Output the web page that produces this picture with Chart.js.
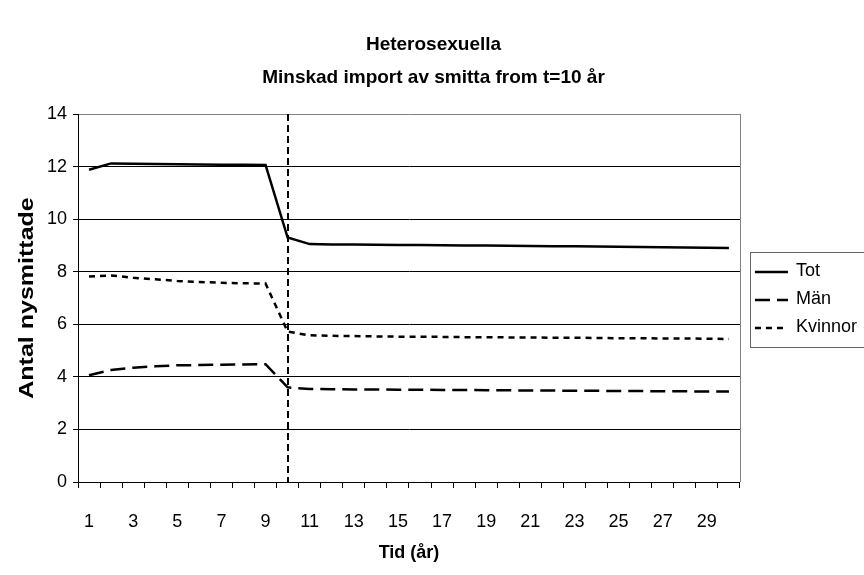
<!DOCTYPE html>
<html lang="sv">
  <head>
    <meta charset="UTF-8" />
    <title>Heterosexuella</title>
    <script src="https://cdn.jsdelivr.net/npm/chart.js"></script>
    <style>
      body { margin: 0; background: #fff; }
      #wrap { width: 864px; height: 575px; }
    </style>
  </head>
  <body>
    <div id="wrap"><canvas id="chart"></canvas></div>
    <script>
      // Tid (år)
      const years = ["1", "2", "3", "4", "5", "6", "7", "8", "9", "10",
        "11", "12", "13", "14", "15", "16", "17", "18", "19", "20",
        "21", "22", "23", "24", "25", "26", "27", "28", "29", "30"];

      const tot = [11.88, 12.12, 12.11, 12.10, 12.09, 12.08, 12.07, 12.07, 12.06, 9.30,
        9.05, 9.04, 9.04, 9.03, 9.02, 9.02, 9.01, 9.00, 9.00, 8.99,
        8.98, 8.97, 8.97, 8.96, 8.95, 8.94, 8.93, 8.92, 8.91, 8.90];

      const man = [4.06, 4.26, 4.35, 4.40, 4.44, 4.45, 4.46, 4.47, 4.48, 3.60,
        3.54, 3.53, 3.52, 3.52, 3.51, 3.51, 3.50, 3.50, 3.49, 3.49,
        3.48, 3.48, 3.47, 3.47, 3.46, 3.46, 3.45, 3.45, 3.44, 3.44];

      const kvinnor = [7.82, 7.86, 7.77, 7.71, 7.65, 7.61, 7.58, 7.56, 7.55, 5.72,
        5.58, 5.56, 5.55, 5.54, 5.53, 5.53, 5.52, 5.51, 5.51, 5.50,
        5.50, 5.49, 5.49, 5.48, 5.47, 5.47, 5.46, 5.46, 5.45, 5.44];

      const yTicks = [0, 2, 4, 6, 8, 10, 12, 14];
      const changeYear = "10"; // minskad import från t=10
      const yTitle = "Antal nysmittade";

      Chart.defaults.font.family = "'Liberation Sans', Arial, sans-serif";
      Chart.defaults.font.size = 18;
      Chart.defaults.color = "#000";

      // dashed marker at t=10, plot frame, y title, legend samples and frame
      const extras = {
        id: "extras",
        afterDatasetsDraw(chart) {
          const { ctx, chartArea: a, scales } = chart;
          const x = scales.x.getPixelForValue(years.indexOf(changeYear));
          ctx.save();
          ctx.strokeStyle = "#000";
          ctx.lineWidth = 2;
          ctx.setLineDash([7, 4]);
          ctx.beginPath();
          ctx.moveTo(Math.round(x), a.top);
          ctx.lineTo(Math.round(x), a.bottom);
          ctx.stroke();
          ctx.setLineDash([]);
          ctx.lineWidth = 1;
          ctx.strokeStyle = "#808080";
          ctx.beginPath();
          ctx.moveTo(Math.round(a.right) + 0.5, a.top);
          ctx.lineTo(Math.round(a.right) + 0.5, a.bottom);
          ctx.stroke();
          ctx.restore();

          // y axis title, stretched along its length like the original
          ctx.save();
          ctx.translate(27, (a.top + a.bottom) / 2);
          ctx.rotate(-Math.PI / 2);
          ctx.scale(1.25, 1);
          ctx.font = "bold 20px 'Liberation Sans', Arial, sans-serif";
          ctx.fillStyle = "#000";
          ctx.textAlign = "center";
          ctx.textBaseline = "middle";
          ctx.fillText(yTitle, 0, 0);
          ctx.restore();
        },
        afterDraw(chart) {
          const boxes = chart.legend.legendHitBoxes;
          if (!boxes || !boxes.length) return;
          const { ctx } = chart;
          const half = 9;
          ctx.save();
          boxes.forEach((b, i) => {
            const ds = chart.data.datasets[i];
            const y = Math.round(b.top + half);
            ctx.strokeStyle = ds.borderColor;
            ctx.lineWidth = ds.borderWidth;
            ctx.setLineDash(ds.borderDash || []);
            ctx.beginPath();
            ctx.moveTo(b.left + 5, y);
            ctx.lineTo(b.left + 38, y);
            ctx.stroke();
          });
          ctx.setLineDash([]);
          const first = boxes[0];
          const last = boxes[boxes.length - 1];
          const top = first.top + half - 20;
          const bottom = last.top + half + 19;
          ctx.strokeStyle = "#666";
          ctx.lineWidth = 1;
          ctx.strokeRect(Math.round(first.left) + 0.5, Math.round(top) + 0.5, 200, Math.round(bottom - top));
          ctx.restore();
        },
      };

      new Chart(document.getElementById("chart"), {
        type: "line",
        data: {
          labels: years,
          datasets: [
            {
              label: "Tot",
              data: tot,
              borderColor: "#000",
              borderWidth: 2.5,
              pointRadius: 0,
              tension: 0,
            },
            {
              label: "Män",
              data: man,
              borderColor: "#000",
              borderWidth: 2.5,
              borderDash: [15, 7],
              pointRadius: 0,
              tension: 0,
            },
            {
              label: "Kvinnor",
              data: kvinnor,
              borderColor: "#000",
              borderWidth: 2.5,
              borderDash: [6, 5],
              pointRadius: 0,
              tension: 0,
            },
          ],
        },
        options: {
          responsive: true,
          maintainAspectRatio: false,
          animation: false,
          layout: { padding: { left: 0, top: 0, bottom: 0, right: -3 } },
          scales: {
            x: {
              offset: true,
              grid: {
                offset: true,
                drawOnChartArea: false,
                drawTicks: true,
                tickLength: 6,
                color: "#000",
              },
              border: { color: "#000", width: 1 },
              ticks: {
                autoSkip: false,
                maxRotation: 0,
                padding: 23,
                callback: (v, i) => (i % 2 === 0 ? years[i] : ""),
              },
              title: {
                display: true,
                text: "Tid (år)",
                font: { weight: "bold", size: 18 },
                padding: { top: 0, bottom: 11 },
              },
              afterFit: (s) => { s.height = 93; },
            },
            y: {
              min: 0,
              max: 14,
              afterBuildTicks: (s) => { s.ticks = yTicks.map((v) => ({ value: v })); },
              grid: {
                color: (c) => (c.tick && c.tick.value === 14 ? "#808080" : "#000"),
                tickColor: "#000",
                tickLength: 5,
              },
              border: { color: "#000", width: 1 },
              ticks: { padding: 6 },
              title: { display: false },
              afterFit: (s) => { s.width = 78; },
            },
          },
          plugins: {
            title: {
              display: true,
              text: ["Heterosexuella", "Minskad import av smitta from t=10 år"],
              font: { weight: "bold", size: 19, lineHeight: 1.75 },
              padding: { top: 28, bottom: 19.5 },
            },
            legend: {
              position: "right",
              title: {
                display: true,
                text: " ",
                font: { size: 4, lineHeight: 1 },
                padding: { top: 10, bottom: 10 },
              },
              labels: {
                usePointStyle: true,
                pointStyle: "line",
                pointStyleWidth: 37,
                padding: 10,
                color: "#000",
                generateLabels: (chart) =>
                  Chart.defaults.plugins.legend.labels.generateLabels(chart).map((item) => ({
                    ...item,
                    strokeStyle: "rgba(0,0,0,0)",
                    fillStyle: "rgba(0,0,0,0)",
                  })),
              },
            },
            tooltip: { enabled: false },
          },
        },
        plugins: [extras],
      });
    </script>
  </body>
</html>
